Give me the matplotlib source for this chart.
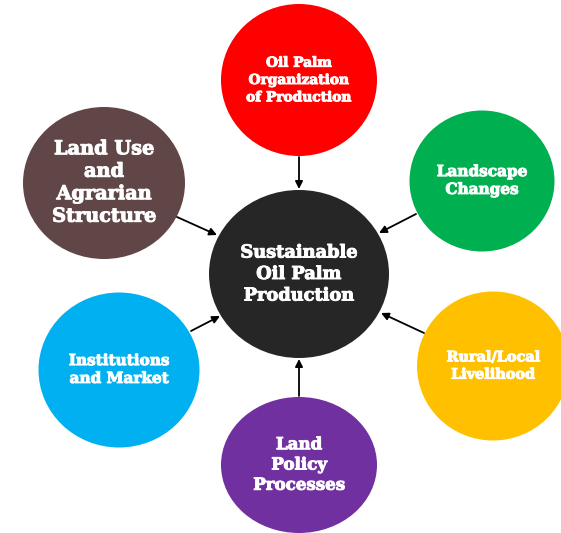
import matplotlib
matplotlib.use("Agg")
import matplotlib.pyplot as plt
import matplotlib.patheffects as pe
from matplotlib.patches import Ellipse

# nodes of the diagram
labels = [
    "Sustainable\nOil Palm\nProduction",
    "Oil Palm\nOrganization\nof Production",
    "Landscape\nChanges",
    "Rural/Local\nLivelihood",
    "Land\nPolicy\nProcesses",
    "Institutions\nand Market",
    "Land Use\nand\nAgrarian\nStructure",
]
colors = ["#262626", "#FF0000", "#00B050", "#FFC000", "#7030A0", "#00B0F0", "#604646"]

# layout in pixel space (x right, y down)
cx = [299, 299, 482, 493, 299, 119, 104]
cy = [274, 80, 181, 366, 465, 370, 183]
rx = [90, 78, 72.5, 76, 78, 80.5, 81]
ry = [84, 76, 70.5, 74.5, 68, 77.5, 76]
fsize = [12.8, 9.9, 11.0, 10.4, 12.0, 11.0, 13.9]
lspace = [1.25, 1.3, 1.35, 1.3, 1.25, 1.35, 1.32]

# arrows: (tail) -> (tip)
arrow_from = [(299, 157), (416, 214), (424, 333), (299, 396), (191, 331), (177, 217)]
arrow_to = [(299, 189), (379, 233), (381, 313), (299, 359), (220, 316), (217, 235)]

fig = plt.figure(figsize=(5.61, 5.33), dpi=100)
ax = fig.add_axes([0, 0, 1, 1])
ax.set_xlim(0, 561)
ax.set_ylim(533, 0)
ax.axis("off")

for i in range(len(labels)):
    ax.add_patch(Ellipse((cx[i], cy[i]), 2 * rx[i], 2 * ry[i],
                         facecolor=colors[i], edgecolor="none", zorder=2))
    ax.text(cx[i], cy[i], labels[i], color="white", ha="center", va="center",
            fontsize=fsize[i], fontweight="bold", family="DejaVu Serif",
            linespacing=lspace[i], multialignment="center", zorder=3,
            path_effects=[pe.withStroke(linewidth=0.7, foreground="white")])

for a, b in zip(arrow_from, arrow_to):
    ax.annotate("", xy=b, xytext=a,
                arrowprops=dict(arrowstyle="-|>", color="black", lw=1.3,
                                mutation_scale=11, shrinkA=0, shrinkB=0),
                zorder=4)

fig.savefig("out.png", dpi=100)
